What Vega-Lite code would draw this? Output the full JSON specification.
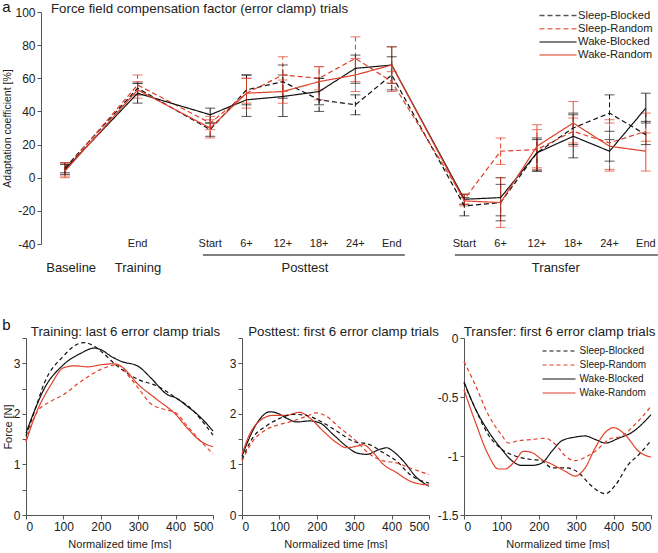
{
  "$schema": "https://vega.github.io/schema/vega-lite/v6.json",
  "padding": {"left": 2, "top": -1, "right": 0, "bottom": 0},
  "background": "white",
  "title": {"text": "a", "anchor": "start", "frame": "bounds", "fontSize": 15, "offset": -13, "color": "#111"},
  "datasets": {
    "top": [
      {"g": "Sleep-Blocked", "x": 0, "m": 6, "lo": 3, "hi": 9},
      {"g": "Sleep-Blocked", "x": 2, "m": 54, "lo": 50, "hi": 57},
      {"g": "Sleep-Blocked", "x": 4, "m": 29, "lo": 25, "hi": 33},
      {"g": "Sleep-Blocked", "x": 5, "m": 53, "lo": 44, "hi": 62},
      {"g": "Sleep-Blocked", "x": 6, "m": 58, "lo": 48, "hi": 68},
      {"g": "Sleep-Blocked", "x": 7, "m": 47, "lo": 40, "hi": 60},
      {"g": "Sleep-Blocked", "x": 8, "m": 44, "lo": 38, "hi": 50},
      {"g": "Sleep-Blocked", "x": 9, "m": 62, "lo": 53, "hi": 73},
      {"g": "Sleep-Blocked", "x": 11, "m": -17, "lo": -23, "hi": -12},
      {"g": "Sleep-Blocked", "x": 12, "m": -15, "lo": -26, "hi": -4},
      {"g": "Sleep-Blocked", "x": 13, "m": 15, "lo": 4, "hi": 23},
      {"g": "Sleep-Blocked", "x": 14, "m": 30, "lo": 20, "hi": 39},
      {"g": "Sleep-Blocked", "x": 15, "m": 39, "lo": 28, "hi": 50},
      {"g": "Sleep-Blocked", "x": 16, "m": 26, "lo": 20, "hi": 34},
      {"g": "Sleep-Random", "x": 0, "m": 5, "lo": 1, "hi": 9},
      {"g": "Sleep-Random", "x": 2, "m": 56, "lo": 50, "hi": 62},
      {"g": "Sleep-Random", "x": 4, "m": 33, "lo": 29, "hi": 37},
      {"g": "Sleep-Random", "x": 5, "m": 51, "lo": 42, "hi": 60},
      {"g": "Sleep-Random", "x": 6, "m": 62, "lo": 52, "hi": 73},
      {"g": "Sleep-Random", "x": 7, "m": 60, "lo": 53, "hi": 67},
      {"g": "Sleep-Random", "x": 8, "m": 72, "lo": 58, "hi": 85},
      {"g": "Sleep-Random", "x": 9, "m": 58, "lo": 52, "hi": 64},
      {"g": "Sleep-Random", "x": 11, "m": -13, "lo": -17, "hi": -10},
      {"g": "Sleep-Random", "x": 12, "m": 16, "lo": 8, "hi": 24},
      {"g": "Sleep-Random", "x": 13, "m": 17, "lo": 5, "hi": 29},
      {"g": "Sleep-Random", "x": 14, "m": 28, "lo": 19, "hi": 36},
      {"g": "Sleep-Random", "x": 15, "m": 21, "lo": 4, "hi": 35},
      {"g": "Sleep-Random", "x": 16, "m": 28, "lo": 22, "hi": 39},
      {"g": "Wake-Blocked", "x": 0, "m": 5, "lo": 2, "hi": 8},
      {"g": "Wake-Blocked", "x": 2, "m": 51, "lo": 45, "hi": 57},
      {"g": "Wake-Blocked", "x": 4, "m": 38, "lo": 33, "hi": 42},
      {"g": "Wake-Blocked", "x": 5, "m": 47, "lo": 37, "hi": 62},
      {"g": "Wake-Blocked", "x": 6, "m": 49, "lo": 37, "hi": 62},
      {"g": "Wake-Blocked", "x": 7, "m": 52, "lo": 44, "hi": 60},
      {"g": "Wake-Blocked", "x": 8, "m": 66, "lo": 57, "hi": 74},
      {"g": "Wake-Blocked", "x": 9, "m": 68, "lo": 57, "hi": 79},
      {"g": "Wake-Blocked", "x": 11, "m": -13, "lo": -16, "hi": -10},
      {"g": "Wake-Blocked", "x": 12, "m": -12, "lo": -23, "hi": 0},
      {"g": "Wake-Blocked", "x": 13, "m": 15, "lo": 4, "hi": 24},
      {"g": "Wake-Blocked", "x": 14, "m": 25, "lo": 12, "hi": 38},
      {"g": "Wake-Blocked", "x": 15, "m": 16, "lo": 10, "hi": 23},
      {"g": "Wake-Blocked", "x": 16, "m": 42, "lo": 33, "hi": 51},
      {"g": "Wake-Random", "x": 0, "m": 4, "lo": 0, "hi": 9},
      {"g": "Wake-Random", "x": 2, "m": 53, "lo": 48, "hi": 58},
      {"g": "Wake-Random", "x": 4, "m": 30, "lo": 24, "hi": 35},
      {"g": "Wake-Random", "x": 5, "m": 51, "lo": 45, "hi": 60},
      {"g": "Wake-Random", "x": 6, "m": 52, "lo": 45, "hi": 59},
      {"g": "Wake-Random", "x": 7, "m": 58, "lo": 47, "hi": 67},
      {"g": "Wake-Random", "x": 8, "m": 62, "lo": 52, "hi": 72},
      {"g": "Wake-Random", "x": 9, "m": 68, "lo": 57, "hi": 79},
      {"g": "Wake-Random", "x": 11, "m": -14, "lo": -16, "hi": -10},
      {"g": "Wake-Random", "x": 12, "m": -15, "lo": -30, "hi": 0},
      {"g": "Wake-Random", "x": 13, "m": 19, "lo": 6, "hi": 32},
      {"g": "Wake-Random", "x": 14, "m": 33, "lo": 21, "hi": 46},
      {"g": "Wake-Random", "x": 15, "m": 19, "lo": 5, "hi": 33},
      {"g": "Wake-Random", "x": 16, "m": 16, "lo": 4, "hi": 27}
    ],
    "ticklabels": [
      {"x": 2, "y": -40.2, "s": "End"},
      {"x": 4, "y": -40.2, "s": "Start"},
      {"x": 5, "y": -40.2, "s": "6+"},
      {"x": 6, "y": -40.2, "s": "12+"},
      {"x": 7, "y": -40.2, "s": "18+"},
      {"x": 8, "y": -40.2, "s": "24+"},
      {"x": 9, "y": -40.2, "s": "End"},
      {"x": 11, "y": -40.2, "s": "Start"},
      {"x": 12, "y": -40.2, "s": "6+"},
      {"x": 13, "y": -40.2, "s": "12+"},
      {"x": 14, "y": -40.2, "s": "18+"},
      {"x": 15, "y": -40.2, "s": "24+"},
      {"x": 16, "y": -40.2, "s": "End"}
    ],
    "grouplabels": [
      {"x": 0.17, "y": -54.5, "s": "Baseline"},
      {"x": 2.01, "y": -54.5, "s": "Training"},
      {"x": 6.61, "y": -54.5, "s": "Posttest"},
      {"x": 13.52, "y": -54.5, "s": "Transfer"}
    ],
    "underlines": [
      {"x": 3.8, "x2": 9.36, "y": -46.6},
      {"x": 10.74, "x2": 16.33, "y": -46.6}
    ],
    "train": [
      {"g": "Wake-Blocked", "t": 0, "f": 1.62}, {"g": "Wake-Blocked", "t": 22, "f": 2.05}, {"g": "Wake-Blocked", "t": 49, "f": 2.5}, {"g": "Wake-Blocked", "t": 100, "f": 2.97}, {"g": "Wake-Blocked", "t": 147, "f": 3.2}, {"g": "Wake-Blocked", "t": 182, "f": 3.3}, {"g": "Wake-Blocked", "t": 200, "f": 3.27}, {"g": "Wake-Blocked", "t": 227, "f": 3.14}, {"g": "Wake-Blocked", "t": 254, "f": 3.04}, {"g": "Wake-Blocked", "t": 300, "f": 2.94}, {"g": "Wake-Blocked", "t": 334, "f": 2.71}, {"g": "Wake-Blocked", "t": 378, "f": 2.38}, {"g": "Wake-Blocked", "t": 400, "f": 2.32}, {"g": "Wake-Blocked", "t": 431, "f": 2.15}, {"g": "Wake-Blocked", "t": 458, "f": 1.99}, {"g": "Wake-Blocked", "t": 485, "f": 1.79}, {"g": "Wake-Blocked", "t": 500, "f": 1.66},
      {"g": "Sleep-Blocked", "t": 0, "f": 1.56}, {"g": "Sleep-Blocked", "t": 25, "f": 2.1}, {"g": "Sleep-Blocked", "t": 49, "f": 2.61}, {"g": "Sleep-Blocked", "t": 100, "f": 3.14}, {"g": "Sleep-Blocked", "t": 138, "f": 3.38}, {"g": "Sleep-Blocked", "t": 156, "f": 3.41}, {"g": "Sleep-Blocked", "t": 182, "f": 3.34}, {"g": "Sleep-Blocked", "t": 200, "f": 3.24}, {"g": "Sleep-Blocked", "t": 245, "f": 2.94}, {"g": "Sleep-Blocked", "t": 300, "f": 2.68}, {"g": "Sleep-Blocked", "t": 351, "f": 2.55}, {"g": "Sleep-Blocked", "t": 400, "f": 2.32}, {"g": "Sleep-Blocked", "t": 449, "f": 2.05}, {"g": "Sleep-Blocked", "t": 475, "f": 1.82}, {"g": "Sleep-Blocked", "t": 500, "f": 1.58},
      {"g": "Wake-Random", "t": 0, "f": 1.45}, {"g": "Wake-Random", "t": 22, "f": 1.92}, {"g": "Wake-Random", "t": 67, "f": 2.58}, {"g": "Wake-Random", "t": 100, "f": 2.91}, {"g": "Wake-Random", "t": 129, "f": 2.95}, {"g": "Wake-Random", "t": 165, "f": 2.93}, {"g": "Wake-Random", "t": 200, "f": 2.97}, {"g": "Wake-Random", "t": 236, "f": 2.99}, {"g": "Wake-Random", "t": 254, "f": 2.94}, {"g": "Wake-Random", "t": 300, "f": 2.58}, {"g": "Wake-Random", "t": 351, "f": 2.28}, {"g": "Wake-Random", "t": 400, "f": 1.99}, {"g": "Wake-Random", "t": 431, "f": 1.72}, {"g": "Wake-Random", "t": 467, "f": 1.46}, {"g": "Wake-Random", "t": 500, "f": 1.35},
      {"g": "Sleep-Random", "t": 0, "f": 1.46}, {"g": "Sleep-Random", "t": 31, "f": 2.05}, {"g": "Sleep-Random", "t": 67, "f": 2.25}, {"g": "Sleep-Random", "t": 100, "f": 2.38}, {"g": "Sleep-Random", "t": 147, "f": 2.64}, {"g": "Sleep-Random", "t": 200, "f": 2.88}, {"g": "Sleep-Random", "t": 245, "f": 2.97}, {"g": "Sleep-Random", "t": 271, "f": 2.78}, {"g": "Sleep-Random", "t": 300, "f": 2.51}, {"g": "Sleep-Random", "t": 334, "f": 2.2}, {"g": "Sleep-Random", "t": 369, "f": 2.09}, {"g": "Sleep-Random", "t": 400, "f": 2.02}, {"g": "Sleep-Random", "t": 431, "f": 1.76}, {"g": "Sleep-Random", "t": 467, "f": 1.46}, {"g": "Sleep-Random", "t": 500, "f": 1.21}
    ],
    "post": [
      {"g": "Wake-Blocked", "t": 0, "f": 1.16}, {"g": "Wake-Blocked", "t": 20, "f": 1.53}, {"g": "Wake-Blocked", "t": 47, "f": 1.89}, {"g": "Wake-Blocked", "t": 74, "f": 2.04}, {"g": "Wake-Blocked", "t": 92, "f": 2.02}, {"g": "Wake-Blocked", "t": 118, "f": 1.92}, {"g": "Wake-Blocked", "t": 146, "f": 1.84}, {"g": "Wake-Blocked", "t": 181, "f": 1.86}, {"g": "Wake-Blocked", "t": 208, "f": 1.82}, {"g": "Wake-Blocked", "t": 244, "f": 1.59}, {"g": "Wake-Blocked", "t": 279, "f": 1.36}, {"g": "Wake-Blocked", "t": 306, "f": 1.23}, {"g": "Wake-Blocked", "t": 333, "f": 1.2}, {"g": "Wake-Blocked", "t": 369, "f": 1.3}, {"g": "Wake-Blocked", "t": 387, "f": 1.33}, {"g": "Wake-Blocked", "t": 404, "f": 1.26}, {"g": "Wake-Blocked", "t": 431, "f": 1.07}, {"g": "Wake-Blocked", "t": 467, "f": 0.74}, {"g": "Wake-Blocked", "t": 500, "f": 0.57},
      {"g": "Wake-Random", "t": 0, "f": 1.2}, {"g": "Wake-Random", "t": 20, "f": 1.59}, {"g": "Wake-Random", "t": 47, "f": 1.86}, {"g": "Wake-Random", "t": 83, "f": 1.97}, {"g": "Wake-Random", "t": 118, "f": 1.97}, {"g": "Wake-Random", "t": 154, "f": 2.03}, {"g": "Wake-Random", "t": 181, "f": 1.92}, {"g": "Wake-Random", "t": 217, "f": 1.66}, {"g": "Wake-Random", "t": 253, "f": 1.43}, {"g": "Wake-Random", "t": 279, "f": 1.33}, {"g": "Wake-Random", "t": 306, "f": 1.36}, {"g": "Wake-Random", "t": 324, "f": 1.39}, {"g": "Wake-Random", "t": 351, "f": 1.23}, {"g": "Wake-Random", "t": 378, "f": 1.0}, {"g": "Wake-Random", "t": 413, "f": 0.84}, {"g": "Wake-Random", "t": 449, "f": 0.67}, {"g": "Wake-Random", "t": 500, "f": 0.59},
      {"g": "Sleep-Blocked", "t": 0, "f": 1.1}, {"g": "Sleep-Blocked", "t": 29, "f": 1.53}, {"g": "Sleep-Blocked", "t": 65, "f": 1.76}, {"g": "Sleep-Blocked", "t": 101, "f": 1.91}, {"g": "Sleep-Blocked", "t": 137, "f": 1.99}, {"g": "Sleep-Blocked", "t": 172, "f": 1.97}, {"g": "Sleep-Blocked", "t": 208, "f": 1.86}, {"g": "Sleep-Blocked", "t": 253, "f": 1.66}, {"g": "Sleep-Blocked", "t": 297, "f": 1.46}, {"g": "Sleep-Blocked", "t": 342, "f": 1.39}, {"g": "Sleep-Blocked", "t": 378, "f": 1.23}, {"g": "Sleep-Blocked", "t": 413, "f": 1.07}, {"g": "Sleep-Blocked", "t": 449, "f": 0.8}, {"g": "Sleep-Blocked", "t": 500, "f": 0.63},
      {"g": "Sleep-Random", "t": 0, "f": 1.07}, {"g": "Sleep-Random", "t": 29, "f": 1.46}, {"g": "Sleep-Random", "t": 65, "f": 1.69}, {"g": "Sleep-Random", "t": 101, "f": 1.79}, {"g": "Sleep-Random", "t": 137, "f": 1.86}, {"g": "Sleep-Random", "t": 172, "f": 1.95}, {"g": "Sleep-Random", "t": 199, "f": 2.02}, {"g": "Sleep-Random", "t": 226, "f": 1.95}, {"g": "Sleep-Random", "t": 262, "f": 1.72}, {"g": "Sleep-Random", "t": 306, "f": 1.46}, {"g": "Sleep-Random", "t": 342, "f": 1.2}, {"g": "Sleep-Random", "t": 378, "f": 1.07}, {"g": "Sleep-Random", "t": 413, "f": 1.03}, {"g": "Sleep-Random", "t": 449, "f": 0.93}, {"g": "Sleep-Random", "t": 500, "f": 0.8}
    ],
    "trans": [
      {"g": "Wake-Blocked", "t": 0, "f": -0.37}, {"g": "Wake-Blocked", "t": 29, "f": -0.59}, {"g": "Wake-Blocked", "t": 65, "f": -0.79}, {"g": "Wake-Blocked", "t": 100, "f": -0.94}, {"g": "Wake-Blocked", "t": 128, "f": -1.04}, {"g": "Wake-Blocked", "t": 155, "f": -1.08}, {"g": "Wake-Blocked", "t": 181, "f": -1.08}, {"g": "Wake-Blocked", "t": 208, "f": -1.06}, {"g": "Wake-Blocked", "t": 235, "f": -0.96}, {"g": "Wake-Blocked", "t": 262, "f": -0.87}, {"g": "Wake-Blocked", "t": 297, "f": -0.84}, {"g": "Wake-Blocked", "t": 324, "f": -0.83}, {"g": "Wake-Blocked", "t": 351, "f": -0.86}, {"g": "Wake-Blocked", "t": 378, "f": -0.89}, {"g": "Wake-Blocked", "t": 413, "f": -0.85}, {"g": "Wake-Blocked", "t": 449, "f": -0.8}, {"g": "Wake-Blocked", "t": 500, "f": -0.65},
      {"g": "Sleep-Blocked", "t": 0, "f": -0.38}, {"g": "Sleep-Blocked", "t": 29, "f": -0.59}, {"g": "Sleep-Blocked", "t": 65, "f": -0.82}, {"g": "Sleep-Blocked", "t": 100, "f": -0.94}, {"g": "Sleep-Blocked", "t": 137, "f": -1.0}, {"g": "Sleep-Blocked", "t": 181, "f": -1.03}, {"g": "Sleep-Blocked", "t": 208, "f": -1.04}, {"g": "Sleep-Blocked", "t": 235, "f": -1.1}, {"g": "Sleep-Blocked", "t": 271, "f": -1.1}, {"g": "Sleep-Blocked", "t": 306, "f": -1.14}, {"g": "Sleep-Blocked", "t": 333, "f": -1.23}, {"g": "Sleep-Blocked", "t": 360, "f": -1.3}, {"g": "Sleep-Blocked", "t": 378, "f": -1.32}, {"g": "Sleep-Blocked", "t": 404, "f": -1.25}, {"g": "Sleep-Blocked", "t": 440, "f": -1.07}, {"g": "Sleep-Blocked", "t": 467, "f": -0.99}, {"g": "Sleep-Blocked", "t": 500, "f": -0.87},
      {"g": "Wake-Random", "t": 0, "f": -0.44}, {"g": "Wake-Random", "t": 29, "f": -0.7}, {"g": "Wake-Random", "t": 65, "f": -0.99}, {"g": "Wake-Random", "t": 92, "f": -1.11}, {"g": "Wake-Random", "t": 110, "f": -1.11}, {"g": "Wake-Random", "t": 137, "f": -1.04}, {"g": "Wake-Random", "t": 159, "f": -0.96}, {"g": "Wake-Random", "t": 181, "f": -0.97}, {"g": "Wake-Random", "t": 208, "f": -1.03}, {"g": "Wake-Random", "t": 235, "f": -1.07}, {"g": "Wake-Random", "t": 271, "f": -1.13}, {"g": "Wake-Random", "t": 297, "f": -1.17}, {"g": "Wake-Random", "t": 324, "f": -1.1}, {"g": "Wake-Random", "t": 351, "f": -0.93}, {"g": "Wake-Random", "t": 378, "f": -0.8}, {"g": "Wake-Random", "t": 400, "f": -0.76}, {"g": "Wake-Random", "t": 431, "f": -0.82}, {"g": "Wake-Random", "t": 467, "f": -0.96}, {"g": "Wake-Random", "t": 500, "f": -1.01},
      {"g": "Sleep-Random", "t": 0, "f": -0.2}, {"g": "Sleep-Random", "t": 29, "f": -0.39}, {"g": "Sleep-Random", "t": 65, "f": -0.65}, {"g": "Sleep-Random", "t": 100, "f": -0.82}, {"g": "Sleep-Random", "t": 119, "f": -0.89}, {"g": "Sleep-Random", "t": 146, "f": -0.87}, {"g": "Sleep-Random", "t": 181, "f": -0.86}, {"g": "Sleep-Random", "t": 217, "f": -0.85}, {"g": "Sleep-Random", "t": 244, "f": -0.9}, {"g": "Sleep-Random", "t": 271, "f": -1.0}, {"g": "Sleep-Random", "t": 297, "f": -1.04}, {"g": "Sleep-Random", "t": 324, "f": -1.01}, {"g": "Sleep-Random", "t": 351, "f": -0.96}, {"g": "Sleep-Random", "t": 387, "f": -0.86}, {"g": "Sleep-Random", "t": 422, "f": -0.83}, {"g": "Sleep-Random", "t": 458, "f": -0.73}, {"g": "Sleep-Random", "t": 500, "f": -0.58}
    ]
  },
  "concat": [
    {
      "width": 630,
      "height": 232,
      "title": {"text": "Force field compensation factor (error clamp) trials", "anchor": "start", "frame": "bounds", "dx": 48, "offset": -9, "fontSize": 13.3},
      "layer": [
        {
          "data": {"name": "top"},
          "mark": {"type": "rule", "strokeWidth": 1, "clip": false},
          "encoding": {
            "x": {"field": "x", "type": "quantitative", "scale": {"domain": [-1.074, 16.28], "nice": false, "zero": false}, "axis": null},
            "y": {"field": "lo", "type": "quantitative", "title": "Adaptation coefficient [%]", "scale": {"domain": [-40, 100], "nice": false, "zero": false}, "axis": {"values": [-40, -20, 0, 20, 40, 60, 80, 100], "labelExpr": "toString(datum.value)", "titleFontSize": 10.5, "titlePadding": 2, "offset": -15}},
            "y2": {"field": "hi"},
            "color": {"field": "g", "type": "nominal", "scale": {"domain": ["Sleep-Blocked", "Sleep-Random", "Wake-Blocked", "Wake-Random"], "range": ["#111111", "#e0402a", "#111111", "#e0402a"]}, "legend": {"title": null, "orient": "none", "legendX": 526, "legendY": -2.5, "symbolType": "M-3.7,0H3.7", "symbolSize": 100, "symbolStrokeWidth": 1.5, "labelFontSize": 11.2, "labelOffset": 14, "rowPadding": 1.2, "padding": 0}},
            "strokeDash": {"field": "g", "type": "nominal", "scale": {"domain": ["Sleep-Blocked", "Sleep-Random", "Wake-Blocked", "Wake-Random"], "range": [[5, 3], [5, 3], [1, 0], [1, 0]]}, "legend": {"title": null, "orient": "none", "legendX": 526, "legendY": -2.5, "symbolType": "M-3.7,0H3.7", "symbolSize": 100, "symbolStrokeWidth": 1.5, "labelFontSize": 11.2, "labelOffset": 14, "rowPadding": 1.2, "padding": 0}}
          }
        },
        {
          "data": {"name": "top"},
          "mark": {"type": "tick", "orient": "horizontal", "size": 10, "thickness": 1, "clip": false},
          "encoding": {
            "x": {"field": "x", "type": "quantitative", "scale": {"domain": [-1.074, 16.28], "nice": false, "zero": false}, "axis": null},
            "y": {"field": "lo", "type": "quantitative", "title": "Adaptation coefficient [%]", "scale": {"domain": [-40, 100], "nice": false, "zero": false}, "axis": {"values": [-40, -20, 0, 20, 40, 60, 80, 100], "labelExpr": "toString(datum.value)", "titleFontSize": 10.5, "titlePadding": 2, "offset": -15}},
            "color": {"field": "g", "type": "nominal", "legend": {"title": null, "orient": "none", "legendX": 526, "legendY": -2.5, "symbolType": "M-3.7,0H3.7", "symbolSize": 100, "symbolStrokeWidth": 1.5, "labelFontSize": 11.2, "labelOffset": 14, "rowPadding": 1.2, "padding": 0}},
            "strokeDash": {"field": "g", "type": "nominal", "legend": {"title": null, "orient": "none", "legendX": 526, "legendY": -2.5, "symbolType": "M-3.7,0H3.7", "symbolSize": 100, "symbolStrokeWidth": 1.5, "labelFontSize": 11.2, "labelOffset": 14, "rowPadding": 1.2, "padding": 0}}
          }
        },
        {
          "data": {"name": "top"},
          "mark": {"type": "tick", "orient": "horizontal", "size": 10, "thickness": 1, "clip": false},
          "encoding": {
            "x": {"field": "x", "type": "quantitative", "scale": {"domain": [-1.074, 16.28], "nice": false, "zero": false}, "axis": null},
            "y": {"field": "hi", "type": "quantitative", "title": "Adaptation coefficient [%]", "scale": {"domain": [-40, 100], "nice": false, "zero": false}, "axis": {"values": [-40, -20, 0, 20, 40, 60, 80, 100], "labelExpr": "toString(datum.value)", "titleFontSize": 10.5, "titlePadding": 2, "offset": -15}},
            "color": {"field": "g", "type": "nominal", "legend": {"title": null, "orient": "none", "legendX": 526, "legendY": -2.5, "symbolType": "M-3.7,0H3.7", "symbolSize": 100, "symbolStrokeWidth": 1.5, "labelFontSize": 11.2, "labelOffset": 14, "rowPadding": 1.2, "padding": 0}},
            "strokeDash": {"field": "g", "type": "nominal", "legend": {"title": null, "orient": "none", "legendX": 526, "legendY": -2.5, "symbolType": "M-3.7,0H3.7", "symbolSize": 100, "symbolStrokeWidth": 1.5, "labelFontSize": 11.2, "labelOffset": 14, "rowPadding": 1.2, "padding": 0}}
          }
        },
        {
          "data": {"name": "top"},
          "mark": {"type": "line", "strokeWidth": 1.2, "clip": false},
          "encoding": {
            "x": {"field": "x", "type": "quantitative", "scale": {"domain": [-1.074, 16.28], "nice": false, "zero": false}, "axis": null},
            "y": {"field": "m", "type": "quantitative", "title": "Adaptation coefficient [%]", "scale": {"domain": [-40, 100], "nice": false, "zero": false}, "axis": {"values": [-40, -20, 0, 20, 40, 60, 80, 100], "labelExpr": "toString(datum.value)", "titleFontSize": 10.5, "titlePadding": 2, "offset": -15}},
            "color": {"field": "g", "type": "nominal", "legend": {"title": null, "orient": "none", "legendX": 526, "legendY": -2.5, "symbolType": "M-3.7,0H3.7", "symbolSize": 100, "symbolStrokeWidth": 1.5, "labelFontSize": 11.2, "labelOffset": 14, "rowPadding": 1.2, "padding": 0}},
            "strokeDash": {"field": "g", "type": "nominal", "legend": {"title": null, "orient": "none", "legendX": 526, "legendY": -2.5, "symbolType": "M-3.7,0H3.7", "symbolSize": 100, "symbolStrokeWidth": 1.5, "labelFontSize": 11.2, "labelOffset": 14, "rowPadding": 1.2, "padding": 0}}
          }
        },
        {
          "data": {"name": "ticklabels"},
          "mark": {"type": "text", "fontSize": 11, "baseline": "middle", "align": "center", "color": "#222", "clip": false},
          "encoding": {
            "x": {"field": "x", "type": "quantitative", "scale": {"domain": [-1.074, 16.28], "nice": false, "zero": false}, "axis": null},
            "y": {"field": "y", "type": "quantitative", "title": "Adaptation coefficient [%]", "scale": {"domain": [-40, 100], "nice": false, "zero": false}, "axis": {"values": [-40, -20, 0, 20, 40, 60, 80, 100], "labelExpr": "toString(datum.value)", "titleFontSize": 10.5, "titlePadding": 2, "offset": -15}},
            "text": {"field": "s"}
          }
        },
        {
          "data": {"name": "underlines"},
          "mark": {"type": "rule", "strokeWidth": 1.5, "color": "#555", "clip": false},
          "encoding": {
            "x": {"field": "x", "type": "quantitative", "scale": {"domain": [-1.074, 16.28], "nice": false, "zero": false}, "axis": null},
            "x2": {"field": "x2"},
            "y": {"field": "y", "type": "quantitative", "title": "Adaptation coefficient [%]", "scale": {"domain": [-40, 100], "nice": false, "zero": false}, "axis": {"values": [-40, -20, 0, 20, 40, 60, 80, 100], "labelExpr": "toString(datum.value)", "titleFontSize": 10.5, "titlePadding": 2, "offset": -15}}
          }
        },
        {
          "data": {"name": "grouplabels"},
          "mark": {"type": "text", "fontSize": 13, "baseline": "middle", "align": "center", "color": "#222", "clip": false},
          "encoding": {
            "x": {"field": "x", "type": "quantitative", "scale": {"domain": [-1.074, 16.28], "nice": false, "zero": false}, "axis": null},
            "y": {"field": "y", "type": "quantitative", "title": "Adaptation coefficient [%]", "scale": {"domain": [-40, 100], "nice": false, "zero": false}, "axis": {"values": [-40, -20, 0, 20, 40, 60, 80, 100], "labelExpr": "toString(datum.value)", "titleFontSize": 10.5, "titlePadding": 2, "offset": -15}},
            "text": {"field": "s"}
          }
        }
      ]
    },
    {
      "spacing": -2,
      "title": {"text": "b", "anchor": "start", "frame": "bounds", "fontSize": 15, "offset": -8.5, "color": "#111"},
      "resolve": {"scale": {"color": "independent", "strokeDash": "independent", "x": "independent", "y": "independent"}, "legend": {"color": "independent", "strokeDash": "independent"}},
      "hconcat": [
        {
          "width": 187,
          "height": 177,
          "title": {"text": "Training: last 6 error clamp trials", "fontSize": 13.3, "offset": -6, "dx": 6},
          "data": {"name": "train"},
          "mark": {"type": "line", "strokeWidth": 1.2, "interpolate": "monotone", "clip": false},
          "encoding": {
            "x": {"field": "t", "type": "quantitative", "title": "Normalized time [ms]", "scale": {"domain": [0, 500], "nice": false}, "axis": {"values": [0, 100, 200, 300, 400, 500], "titlePadding": 6}},
            "y": {"field": "f", "type": "quantitative", "title": "Force [N]", "scale": {"domain": [0, 3.5], "nice": false}, "axis": {"values": [0, 0.5, 1, 1.5, 2, 2.5, 3, 3.5], "labelExpr": "datum.value % 1 === 0 ? toString(datum.value) : ''", "labelOverlap": false, "titlePadding": 0}},
            "color": {"field": "g", "type": "nominal", "scale": {"domain": ["Sleep-Blocked", "Sleep-Random", "Wake-Blocked", "Wake-Random"], "range": ["#111111", "#e0402a", "#111111", "#e0402a"]}, "legend": null},
            "strokeDash": {"field": "g", "type": "nominal", "scale": {"domain": ["Sleep-Blocked", "Sleep-Random", "Wake-Blocked", "Wake-Random"], "range": [[4, 3], [4, 3], [1, 0], [1, 0]]}, "legend": null}
          }
        },
        {
          "width": 187,
          "height": 177,
          "title": {"text": "Posttest: first 6 error clamp trials", "fontSize": 13.3, "offset": -6, "dx": 8},
          "data": {"name": "post"},
          "mark": {"type": "line", "strokeWidth": 1.2, "interpolate": "monotone", "clip": false},
          "encoding": {
            "x": {"field": "t", "type": "quantitative", "title": "Normalized time [ms]", "scale": {"domain": [0, 500], "nice": false}, "axis": {"values": [0, 100, 200, 300, 400, 500], "titlePadding": 6}},
            "y": {"field": "f", "type": "quantitative", "title": " ", "scale": {"domain": [0, 3.5], "nice": false}, "axis": {"values": [0, 0.5, 1, 1.5, 2, 2.5, 3, 3.5], "labelExpr": "datum.value % 1 === 0 ? toString(datum.value) : ''", "labelOverlap": false, "titleFontSize": 10, "titlePadding": 0}},
            "color": {"field": "g", "type": "nominal", "scale": {"domain": ["Sleep-Blocked", "Sleep-Random", "Wake-Blocked", "Wake-Random"], "range": ["#111111", "#e0402a", "#111111", "#e0402a"]}, "legend": null},
            "strokeDash": {"field": "g", "type": "nominal", "scale": {"domain": ["Sleep-Blocked", "Sleep-Random", "Wake-Blocked", "Wake-Random"], "range": [[4, 3], [4, 3], [1, 0], [1, 0]]}, "legend": null}
          }
        },
        {
          "width": 187,
          "height": 177,
          "title": {"text": "Transfer: first 6 error clamp trials", "fontSize": 13.3, "offset": -6, "dx": 2},
          "data": {"name": "trans"},
          "mark": {"type": "line", "strokeWidth": 1.2, "interpolate": "monotone", "clip": false},
          "encoding": {
            "x": {"field": "t", "type": "quantitative", "title": "Normalized time [ms]", "scale": {"domain": [0, 500], "nice": false}, "axis": {"values": [0, 100, 200, 300, 400, 500], "titlePadding": 6}},
            "y": {"field": "f", "type": "quantitative", "title": null, "scale": {"domain": [-1.5, 0], "nice": false, "zero": false}, "axis": {"values": [-1.5, -1, -0.5, 0], "labelExpr": "toString(datum.value)", "labelOverlap": false}},
            "color": {"field": "g", "type": "nominal", "scale": {"domain": ["Sleep-Blocked", "Sleep-Random", "Wake-Blocked", "Wake-Random"], "range": ["#111111", "#e0402a", "#111111", "#e0402a"]}, "legend": {"title": null, "orient": "none", "legendX": 89, "legendY": 7, "symbolType": "M-3.3,0H3.3", "symbolSize": 100, "symbolStrokeWidth": 1.2, "labelFontSize": 10, "labelOffset": 14.5, "rowPadding": 3, "padding": 0}},
            "strokeDash": {"field": "g", "type": "nominal", "scale": {"domain": ["Sleep-Blocked", "Sleep-Random", "Wake-Blocked", "Wake-Random"], "range": [[4, 3], [4, 3], [1, 0], [1, 0]]}, "legend": {"title": null, "orient": "none", "legendX": 89, "legendY": 7, "symbolType": "M-3.3,0H3.3", "symbolSize": 100, "symbolStrokeWidth": 1.2, "labelFontSize": 10, "labelOffset": 14.5, "rowPadding": 3, "padding": 0}}
          }
        }
      ]
    }
  ],
  "columns": 1,
  "align": "none",
  "spacing": 42,
  "resolve": {"scale": {"color": "independent", "strokeDash": "independent", "x": "independent", "y": "independent"}, "legend": {"color": "independent", "strokeDash": "independent"}},
  "config": {
    "view": {"stroke": null},
    "font": "Liberation Sans",
    "axis": {"domainColor": "#555", "tickColor": "#555", "labelColor": "#222", "titleColor": "#222", "labelFontSize": 12, "titleFontSize": 11, "titleFontWeight": "normal", "tickSize": 4, "grid": false, "labelPadding": 2, "labelFont": "Liberation Sans", "titleFont": "Liberation Sans", "titlePadding": 3},
    "title": {"fontWeight": "normal", "color": "#222", "font": "Liberation Sans"},
    "legend": {"labelFont": "Liberation Sans", "labelColor": "#222"}
  }
}
